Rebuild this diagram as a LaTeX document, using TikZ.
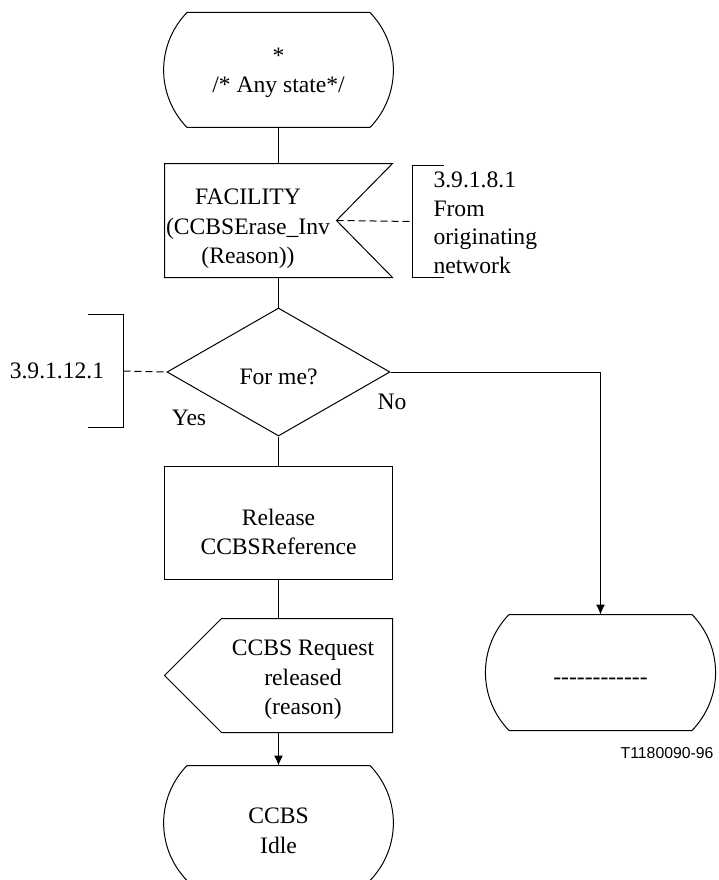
\documentclass[tikz,border=0pt]{standalone}
\usepackage{fontspec}
\setmainfont{Liberation Serif}
\newfontfamily\figfont{Liberation Sans}
\usetikzlibrary{shapes.geometric,arrows.meta}

\tikzset{
  sdl/.style={minimum width=227pt,minimum height=114pt,inner sep=0pt},
  txt/.style={align=center,inner sep=0pt},
  note/.style={dash pattern=on 7pt off 4pt},
  arr/.style={-{Latex[length=10pt,width=9pt]}},
}

\begin{document}
\begin{tikzpicture}[x=1pt,y=-1pt,line width=1pt,font=\fontsize{23.6}{29.5}\selectfont]
  \useasboundingbox (0,0) rectangle (718,880);

  % main column
  \node[sdl,label={[txt,yshift=-3pt]center:*\\/* Any state*/}] (any) at (278.5,70) {};
  \node[sdl,minimum height=113pt,label={[txt,xshift=-30.5pt,yshift=-8.5pt]center:FACILITY\\(CCBSErase\_Inv\\(Reason))}] (fac) at (278.5,220.5) {};
  \coordinate (facN) at ([xshift=-56pt]fac.east);
  \node[diamond,draw,minimum width=223pt,minimum height=128pt,inner sep=0pt,
        label={[txt,yshift=-5pt]center:For me?}] (dec) at (278.5,372) {};
  \node[sdl,minimum height=112pt,label={[txt,yshift=-9pt]center:Release\\CCBSReference}] (rel) at (278.5,523) {};
  \node[sdl,minimum height=113pt,label={[txt,xshift=24.5pt,yshift=-4.5pt]center:CCBS Request\\released\\(reason)}] (out) at (278.5,675.5) {};
  \node[sdl,label={[txt,yshift=-8pt]center:CCBS\\Idle}] (idle) at (278.5,823) {};

  % "No" branch
  \node[sdl,minimum height=115pt,label={[txt,yshift=-8.5pt]center:-{}-{}-{}-{}-{}-{}-{}-{}-{}-{}-{}-}] (gone) at (600.5,672.5) {};

  % outlines
  \foreach \s in {any,idle,gone}
    \draw ([xshift=22.5pt]\s.north west) -- ([xshift=-22.5pt]\s.north east)
      to[bend left=44] ([xshift=-22.5pt]\s.south east) -- ([xshift=22.5pt]\s.south west)
      to[bend left=44] ([xshift=22.5pt]\s.north west);
  \draw (fac.north west) -- (fac.north east) -- (facN) -- (fac.south east) -- (fac.south west) -- cycle;
  \draw (rel.north west) rectangle (rel.south east);
  \draw ([xshift=57pt]out.north west) -- (out.north east) -- (out.south east)
    -- ([xshift=57pt]out.south west) -- (out.west) -- cycle;

  % flow lines
  \draw (any) -- (fac);
  \draw (fac) -- (dec);
  \draw (dec) -- (rel);
  \draw (rel) -- (out);
  \draw[arr] (out) -- (idle);
  \draw[arr] (dec.east) -| (gone.north);
  \node[inner sep=0pt] (yes) at (189,418) {Yes};
  \node[inner sep=0pt] (no) at (392,402) {No};

  % comments
  \node[minimum width=30pt,minimum height=111pt,inner sep=0pt] (brk1) at (428,221.5) {};
  \draw (brk1.north east) -- (brk1.north west) -- (brk1.south west) -- (brk1.south east);
  \node[anchor=west,align=left,inner sep=0pt,font=\fontsize{23.6}{28.5}\selectfont] (c1) at (433,223)
    {3.9.1.8.1\\From\\originating\\network};
  \draw[note] (facN) -- (brk1.west);

  \node[minimum width=35pt,minimum height=112pt,inner sep=0pt] (brk2) at (105.5,371) {};
  \draw (brk2.north west) -- (brk2.north east) -- (brk2.south east) -- (brk2.south west);
  \node[inner sep=0pt] (c2) at (57,371) {3.9.1.12.1};
  \draw[note] (brk2.east) -- (dec.west);

  \node[anchor=east,inner sep=0pt,font=\figfont\fontsize{15.8}{19}\selectfont] (tag) at (714,753) {T1180090-96};
\end{tikzpicture}
\end{document}
